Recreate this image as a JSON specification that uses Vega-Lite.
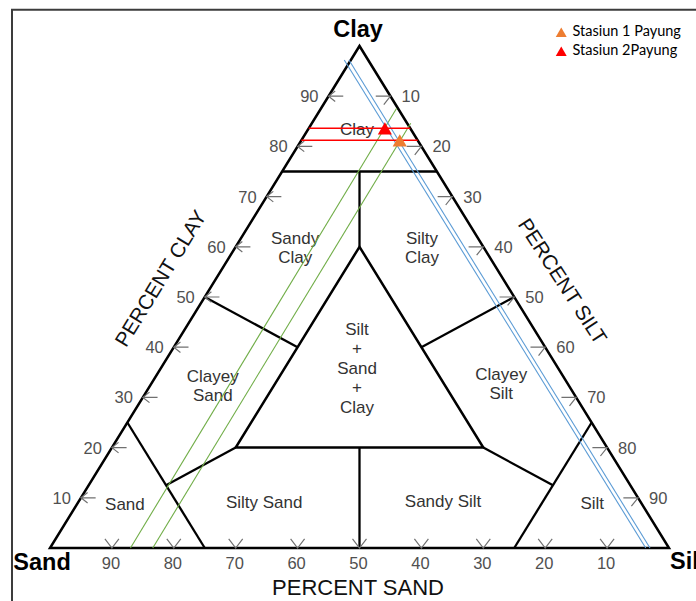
{
  "$schema": "https://vega.github.io/schema/vega-lite/v6.json",
  "width": 696,
  "height": 601,
  "autosize": "none",
  "padding": 0,
  "background": "white",
  "config": {"view": {"stroke": null}, "font": "Liberation Sans"},
  "datasets": {
    "outline": [
      {"path": "outer", "i": 0, "x": 50, "y": 0},
      {"path": "outer", "i": 1, "x": 100, "y": 0},
      {"path": "outer", "i": 2, "x": 50, "y": 100},
      {"path": "outer", "i": 3, "x": 0, "y": 0},
      {"path": "outer", "i": 4, "x": 50, "y": 0},
      {"path": "inner", "i": 0, "x": 50, "y": 20},
      {"path": "inner", "i": 1, "x": 70, "y": 20},
      {"path": "inner", "i": 2, "x": 50, "y": 60},
      {"path": "inner", "i": 3, "x": 30, "y": 20},
      {"path": "inner", "i": 4, "x": 50, "y": 20}
    ],
    "boundaries": [
      {"x": 37.5, "y": 75, "x2": 62.5, "y2": 75},
      {"x": 50, "y": 75, "x2": 50, "y2": 60},
      {"x": 25, "y": 50, "x2": 40, "y2": 40},
      {"x": 75, "y": 50, "x2": 60, "y2": 40},
      {"x": 50, "y": 20, "x2": 50, "y2": 0},
      {"x": 12.5, "y": 25, "x2": 25, "y2": 0},
      {"x": 18.75, "y": 12.5, "x2": 30, "y2": 20},
      {"x": 87.5, "y": 25, "x2": 75, "y2": 0},
      {"x": 81.25, "y": 12.5, "x2": 70, "y2": 20}
    ],
    "samples": [
      {"kind": "red", "x": 41.8, "y": 83.6, "x2": 58.2, "y2": 83.6},
      {"kind": "red", "x": 40.6, "y": 81.2, "x2": 59.4, "y2": 81.2},
      {"kind": "green", "x": 13.0, "y": 0, "x2": 56.0, "y2": 87.6},
      {"kind": "green", "x": 16.6, "y": 0, "x2": 58.27, "y2": 84.6},
      {"kind": "blue", "x": 96.24, "y": 0, "x2": 47.54, "y2": 97.2},
      {"kind": "blue", "x": 96.93, "y": 0, "x2": 48.3, "y2": 97.2}
    ],
    "ticks": [
      {"axis": "clay", "value": "10", "x": 5, "y": 10},
      {"axis": "clay", "value": "20", "x": 10, "y": 20},
      {"axis": "clay", "value": "30", "x": 15, "y": 30},
      {"axis": "clay", "value": "40", "x": 20, "y": 40},
      {"axis": "clay", "value": "50", "x": 25, "y": 50},
      {"axis": "clay", "value": "60", "x": 30, "y": 60},
      {"axis": "clay", "value": "70", "x": 35, "y": 70},
      {"axis": "clay", "value": "80", "x": 40, "y": 80},
      {"axis": "clay", "value": "90", "x": 45, "y": 90},
      {"axis": "silt", "value": "10", "x": 55, "y": 90},
      {"axis": "silt", "value": "20", "x": 60, "y": 80},
      {"axis": "silt", "value": "30", "x": 65, "y": 70},
      {"axis": "silt", "value": "40", "x": 70, "y": 60},
      {"axis": "silt", "value": "50", "x": 75, "y": 50},
      {"axis": "silt", "value": "60", "x": 80, "y": 40},
      {"axis": "silt", "value": "70", "x": 85, "y": 30},
      {"axis": "silt", "value": "80", "x": 90, "y": 20},
      {"axis": "silt", "value": "90", "x": 95, "y": 10},
      {"axis": "sand", "value": "10", "x": 90, "y": 0},
      {"axis": "sand", "value": "20", "x": 80, "y": 0},
      {"axis": "sand", "value": "30", "x": 70, "y": 0},
      {"axis": "sand", "value": "40", "x": 60, "y": 0},
      {"axis": "sand", "value": "50", "x": 50, "y": 0},
      {"axis": "sand", "value": "60", "x": 40, "y": 0},
      {"axis": "sand", "value": "70", "x": 30, "y": 0},
      {"axis": "sand", "value": "80", "x": 20, "y": 0},
      {"axis": "sand", "value": "90", "x": 10, "y": 0}
    ],
    "regions": [
      {"label": "Clay", "x": 49.6, "y": 83.3},
      {"label": "Sandy\nClay", "x": 39.6, "y": 61.6},
      {"label": "Silty\nClay", "x": 60.1, "y": 61.6},
      {"label": "Silt\n+\nSand\n+\nClay", "x": 49.6, "y": 43.5},
      {"label": "Clayey\nSand", "x": 26.3, "y": 34.1},
      {"label": "Clayey\nSilt", "x": 72.9, "y": 34.5},
      {"label": "Sand", "x": 12.1, "y": 8.6},
      {"label": "Silty Sand", "x": 34.6, "y": 9.0},
      {"label": "Sandy Silt", "x": 63.5, "y": 9.2},
      {"label": "Silt", "x": 87.6, "y": 8.8}
    ],
    "points": [
      {"station": "Stasiun 1 Payung", "sand": 2.9, "silt": 15.9, "clay": 81.2, "x": 56.5, "y": 81.2},
      {"station": "Stasiun 2Payung", "sand": 4.1, "silt": 12.3, "clay": 83.6, "x": 54.1, "y": 83.6}
    ]
  },
  "encoding": {
    "x": {"field": "x", "type": "quantitative", "scale": {"domain": [-8.078, 104.362], "nice": false, "zero": false}, "axis": null},
    "y": {"field": "y", "type": "quantitative", "scale": {"domain": [-10.558, 109.163], "nice": false, "zero": false}, "axis": null}
  },
  "layer": [
    {
      "data": {"values": [{"x": -6.14, "x2": 150, "y": 107.23, "y2": -50}]},
      "mark": {"type": "rect", "fillOpacity": 0, "stroke": "#3c3c3c", "strokeWidth": 2, "clip": true},
      "encoding": {"x2": {"field": "x2"}, "y2": {"field": "y2"}}
    },
    {
      "data": {"name": "outline"},
      "mark": {"type": "line", "color": "black", "strokeWidth": 2.5, "strokeJoin": "miter"},
      "encoding": {"detail": {"field": "path"}, "order": {"field": "i", "type": "quantitative"}}
    },
    {
      "data": {"name": "boundaries"},
      "mark": {"type": "rule", "color": "black", "strokeWidth": 2.3},
      "encoding": {"x2": {"field": "x2"}, "y2": {"field": "y2"}}
    },
    {
      "data": {"name": "ticks"},
      "transform": [{"filter": "datum.axis === 'clay'"}],
      "mark": {"type": "point", "shape": "M2.1,0L0,0M0.95,-0.75L0,0L0.95,0.75", "size": 196, "filled": false, "stroke": "#707070", "strokeWidth": 1.2, "opacity": 1}
    },
    {
      "data": {"name": "ticks"},
      "transform": [{"filter": "datum.axis === 'silt'"}],
      "mark": {"type": "point", "shape": "M-2.1,0L0,0L-0.95,1.2", "size": 196, "filled": false, "stroke": "#707070", "strokeWidth": 1.2, "opacity": 1}
    },
    {
      "data": {"name": "ticks"},
      "transform": [{"filter": "datum.axis === 'sand'"}],
      "mark": {"type": "point", "shape": "M-1,-1.3L0,0L1,-1.3", "size": 196, "filled": false, "stroke": "#707070", "strokeWidth": 1.2, "opacity": 1}
    },
    {
      "data": {"name": "ticks"},
      "transform": [{"filter": "datum.axis === 'clay'"}],
      "mark": {"type": "text", "align": "right", "baseline": "middle", "dx": -10, "dy": 1, "fontSize": 16.5, "color": "#505050"},
      "encoding": {"text": {"field": "value", "type": "nominal"}}
    },
    {
      "data": {"name": "ticks"},
      "transform": [{"filter": "datum.axis === 'silt'"}],
      "mark": {"type": "text", "align": "left", "baseline": "middle", "dx": 11, "dy": 1, "fontSize": 16.5, "color": "#505050"},
      "encoding": {"text": {"field": "value", "type": "nominal"}}
    },
    {
      "data": {"name": "ticks"},
      "transform": [{"filter": "datum.axis === 'sand'"}],
      "mark": {"type": "text", "align": "center", "baseline": "middle", "dx": -1, "dy": 16, "fontSize": 16.5, "color": "#505050"},
      "encoding": {"text": {"field": "value", "type": "nominal"}}
    },
    {
      "data": {"name": "regions"},
      "mark": {"type": "text", "align": "center", "baseline": "middle", "fontSize": 17, "lineHeight": 19.5, "lineBreak": "\n", "color": "#333333"},
      "encoding": {"text": {"field": "label", "type": "nominal"}}
    },
    {
      "data": {"values": [
        {"label": "Clay", "x": 49.76, "y": 103.2},
        {"label": "Sand", "x": -1.29, "y": -3.0}
      ]},
      "mark": {"type": "text", "align": "center", "baseline": "middle", "fontSize": 23.5, "fontWeight": "bold", "color": "black"},
      "encoding": {"text": {"field": "label", "type": "nominal"}}
    },
    {
      "data": {"values": [{"label": "Silt", "x": 100.16, "y": -2.8}]},
      "mark": {"type": "text", "align": "left", "baseline": "middle", "fontSize": 23.5, "fontWeight": "bold", "color": "black", "clip": true},
      "encoding": {"text": {"field": "label", "type": "nominal"}}
    },
    {
      "data": {"values": [{"label": "PERCENT SAND", "x": 49.76, "y": -7.97}]},
      "mark": {"type": "text", "align": "center", "baseline": "middle", "fontSize": 22, "color": "#111111"},
      "encoding": {"text": {"field": "label", "type": "nominal"}}
    },
    {
      "data": {"values": [{"label": "PERCENT CLAY", "x": 18.0, "y": 53.6}]},
      "mark": {"type": "text", "align": "center", "baseline": "middle", "fontSize": 20.5, "angle": -58.5, "color": "#111111"},
      "encoding": {"text": {"field": "label", "type": "nominal"}}
    },
    {
      "data": {"values": [{"label": "PERCENT SILT", "x": 82.66, "y": 53.05}]},
      "mark": {"type": "text", "align": "center", "baseline": "middle", "fontSize": 20.5, "angle": 57, "color": "#111111"},
      "encoding": {"text": {"field": "label", "type": "nominal"}}
    },
    {
      "data": {"name": "samples"},
      "transform": [{"filter": "datum.kind === 'green'"}],
      "mark": {"type": "rule", "color": "#70ad47", "strokeWidth": 1.1},
      "encoding": {"x2": {"field": "x2"}, "y2": {"field": "y2"}}
    },
    {
      "data": {"name": "samples"},
      "transform": [{"filter": "datum.kind === 'blue'"}],
      "mark": {"type": "rule", "color": "#5b9bd5", "strokeWidth": 1.1},
      "encoding": {"x2": {"field": "x2"}, "y2": {"field": "y2"}}
    },
    {
      "data": {"name": "samples"},
      "transform": [{"filter": "datum.kind === 'red'"}],
      "mark": {"type": "rule", "color": "#ff0000", "strokeWidth": 1.5},
      "encoding": {"x2": {"field": "x2"}, "y2": {"field": "y2"}}
    },
    {
      "data": {"name": "points"},
      "mark": {"type": "point", "shape": "triangle-up", "filled": true, "size": 200, "opacity": 1, "strokeWidth": 0},
      "encoding": {
        "color": {
          "field": "station",
          "type": "nominal",
          "scale": {"domain": ["Stasiun 1 Payung", "Stasiun 2Payung"], "range": ["#ed7d31", "#ff0000"]},
          "legend": {
            "orient": "none",
            "legendX": 554,
            "legendY": 25,
            "title": null,
            "symbolType": "triangle-up",
            "symbolSize": 120,
            "symbolStrokeWidth": 0,
            "symbolOpacity": 1,
            "labelFont": "Lato",
            "labelFontSize": 14.5,
            "labelColor": "black",
            "labelOffset": 4,
            "rowPadding": 4
          }
        }
      }
    }
  ]
}
